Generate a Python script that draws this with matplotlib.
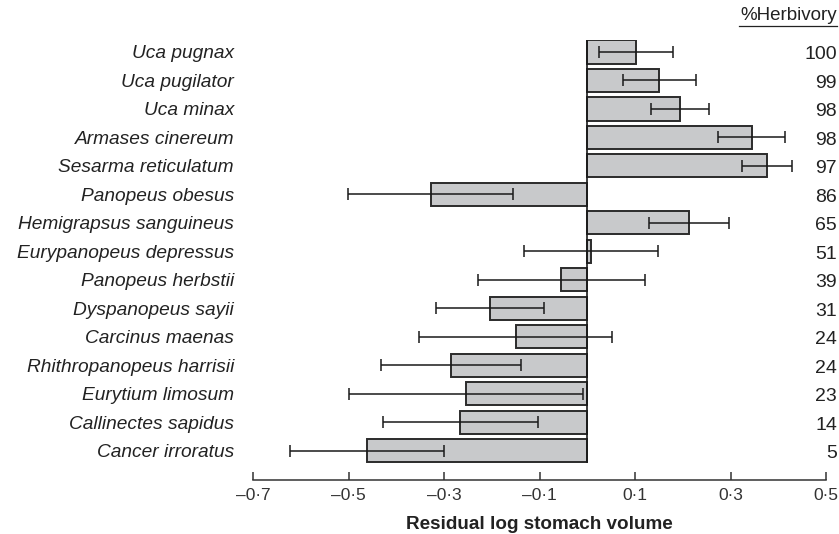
import matplotlib.pyplot as plt
from matplotlib.lines import Line2D
from matplotlib.transforms import blended_transform_factory
import numpy as np

plt.rcParams['font.family'] = ['Liberation Sans', 'DejaVu Sans']

species = ['Uca pugnax', 'Uca pugilator', 'Uca minax', 'Armases cinereum',
           'Sesarma reticulatum', 'Panopeus obesus', 'Hemigrapsus sanguineus',
           'Eurypanopeus depressus', 'Panopeus herbstii', 'Dyspanopeus sayii',
           'Carcinus maenas', 'Rhithropanopeus harrisii', 'Eurytium limosum',
           'Callinectes sapidus', 'Cancer irroratus']
residual = [0.102, 0.151, 0.194, 0.344, 0.376, -0.328, 0.213,
            0.007, -0.055, -0.205, -0.150, -0.286, -0.255, -0.266, -0.462]
err = [0.077, 0.077, 0.061, 0.070, 0.053, 0.173, 0.083,
       0.140, 0.175, 0.113, 0.202, 0.146, 0.245, 0.162, 0.161]
herbivory = ['100', '99', '98', '98', '97', '86', '65', '51', '39', '31',
             '24', '24', '23', '14', '5']
xticks = [-0.7, -0.5, -0.3, -0.1, 0.1, 0.3, 0.5]

fig = plt.figure(figsize=(8.39, 5.34), dpi=100)
ax = fig.add_axes([253.4 / 839, 1 - 480 / 534, 572.6 / 839, 440 / 534])

y = np.arange(len(species))
ax.barh(y, residual, height=0.81, color='#c8c9cb', edgecolor='#2b2b2b',
        linewidth=1.4, zorder=2)
ax.errorbar(residual, y, xerr=err, fmt='none', ecolor='#1a1a1a',
            elinewidth=1.1, capsize=4, capthick=1.1, zorder=3)
ax.vlines(0, -0.41, len(species) - 1 + 0.41, color='#1a1a1a', lw=1.2, zorder=4)

ax.set_xlim(-0.7, 0.5)
ax.set_ylim(len(species) - 1 + 1.02, -0.42)

ax.set_yticks(y)
ax.set_yticklabels(species, style='italic', fontsize=13.8, color='#222222')
ax.tick_params(axis='y', length=0, pad=14)

ax.set_xticks(xticks)
ax.set_xticklabels([('%.1f' % v).replace('-', '\u2013').replace('.', '\u00b7')
                    for v in xticks], fontsize=12.5, color='#333333')
ax.tick_params(axis='x', direction='in', length=6, width=1.1, pad=6,
               color='#333333')

for s in ['top', 'right', 'left']:
    ax.spines[s].set_visible(False)
ax.spines['bottom'].set_linewidth(1.1)
ax.spines['bottom'].set_color('#333333')

ax.set_xlabel('Residual log stomach volume', fontsize=13.6, fontweight='bold',
              color='#222222', labelpad=9)

trans = blended_transform_factory(fig.transFigure, ax.transData)
for yi, h in zip(y, herbivory):
    ax.text(837 / 839, yi + 0.1, h, transform=trans, ha='right', va='center',
            fontsize=14, color='#222222')

fig.text(837 / 839, 1 - 16 / 534, '%Herbivory', ha='right', va='center',
         fontsize=13.5, color='#222222')
fig.add_artist(Line2D([739 / 839, 837 / 839], [1 - 26 / 534, 1 - 26 / 534],
                      transform=fig.transFigure, color='#222222', lw=0.9))

fig.savefig('out.png', dpi=100)
